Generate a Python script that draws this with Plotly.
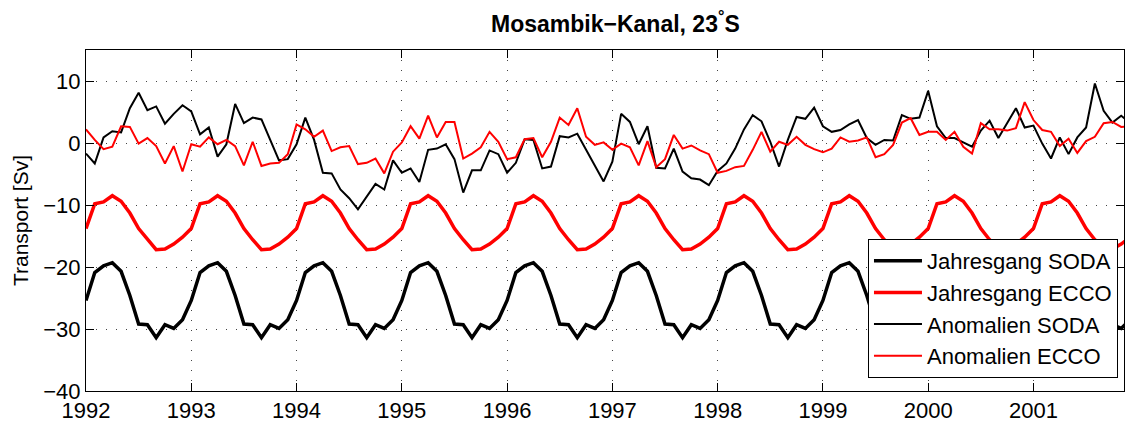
import plotly.graph_objects as go

# Monthly climatology (Jan..Dec), Sv
months = list(range(12))
jahresgang_soda = [-25.4, -20.9, -19.8, -19.3, -20.7, -24.6, -29.2, -29.3, -31.4, -29.3, -29.9, -28.5]
jahresgang_ecco = [-13.8, -9.8, -9.5, -8.5, -9.4, -11.3, -13.8, -15.6, -17.2, -17.1, -16.3, -15.2]

years = list(range(1992, 2002))

anomalien_soda = [
    -1.7, -3.3, 0.9, 1.9, 1.7, 5.6, 8.1, 5.3, 5.9, 3.1, 4.7, 6.1,
    5.1, 1.4, 2.5, -2.2, -0.2, 6.3, 3.2, 4.1, 3.8, 0.5, -2.8, -2.6,
    -0.2, 4.1, 0.5, -4.8, -4.9, -7.5, -8.9, -10.7, -8.7, -6.6, -7.5, -2.8,
    -4.8, -4.1, -6.3, -1.1, -0.9, -0.2, -2.6, -8.0, -4.4, -4.4, -1.2, -1.8,
    -4.8, -3.2, 0.6, 0.5, -4.1, -3.8, 1.1, 0.9, 1.5, -1.1, -3.7, -6.2,
    -3.0, 4.7, 3.4, -0.2, 2.7, -4.0, -4.1, -0.9, -4.6, -5.7, -5.9, -6.8,
    -4.5, -3.3, -0.9, 2.2, 4.5, 3.5, 0.2, -3.8, 0.5, 4.2, 3.9, 5.7,
    2.7, 1.8, 2.1, 3.0, 3.7, 0.8, -0.3, 0.5, 0.4, 4.5, 3.9, 4.1,
    8.4, 2.7, 0.8, 0.8, 0.1, -0.6, 2.0, 3.6, 0.8, 3.2, 5.6, 2.5,
    2.8, -0.1, -2.5, 0.9, -1.8, 0.9, 2.5, 9.6, 5.2, 3.3, 4.4, 3.3,
]

anomalien_ecco = [
    2.2, 0.5, -1.0, -0.6, 2.7, 2.6, -0.1, 0.8, -0.5, -3.3, -0.5, -4.6,
    -0.2, -0.6, 0.9, -0.2, 0.5, -0.5, -3.6, 0.2, -3.7, -3.3, -3.2, -1.8,
    3.0, 2.2, 1.0, 2.0, -1.3, -0.7, -0.5, -3.4, -3.2, -2.5, -4.9, -1.4,
    0.1, 2.7, 0.7, 4.4, 0.9, 3.4, 3.4, -2.5, -1.7, -0.7, 1.8, 0.2,
    -2.6, -2.3, 0.6, 0.8, -2.3, 0.2, 4.1, 2.9, 5.6, 1.0, -0.3, 0.1,
    -1.1, -0.1, -0.7, -3.6, 0.3, -3.9, -2.6, 1.3, -0.9, -0.4, -1.2, -1.8,
    -4.8, -4.5, -3.9, -3.7, -1.1, 1.8, -1.4, 0.2, -0.3, 1.0, -0.3, -1.0,
    -1.5, -0.9, 0.9, 0.2, 0.4, 0.9, -2.3, -1.8, -0.3, 3.3, 4.0, 1.3,
    1.8, 1.8, 0.5, 1.8, -0.6, -1.7, 3.2, 2.2, 2.2, 2.0, 2.4, 6.6,
    3.7, 2.1, 1.8, -0.5, 0.7, -1.6, 0.3, 1.0, 3.2, 3.4, 2.6, 2.7,
]

yticks = [-40, -30, -20, -10, 0, 10]
ytick_labels = ["−40", "−30", "−20", "−10", "0", "10"]

# time axis (decimal years), climatology repeated for each year
t = [y + m / 12 for y in years for m in months]
js = [jahresgang_soda[m] for y in years for m in months]
je = [jahresgang_ecco[m] for y in years for m in months]

fig = go.Figure()
fig.add_trace(go.Scatter(x=t, y=js, mode="lines", name="Jahresgang SODA",
                         line=dict(color="black", width=3.5)))
fig.add_trace(go.Scatter(x=t, y=je, mode="lines", name="Jahresgang ECCO",
                         line=dict(color="#ff0000", width=3.5)))
fig.add_trace(go.Scatter(x=t, y=anomalien_soda, mode="lines", name="Anomalien SODA",
                         line=dict(color="black", width=2)))
fig.add_trace(go.Scatter(x=t, y=anomalien_ecco, mode="lines", name="Anomalien ECCO",
                         line=dict(color="#ff0000", width=2)))

font = "Liberation Sans, Arial, Helvetica, sans-serif"

fig.update_layout(
    width=1125, height=423,
    margin=dict(l=86, r=1, t=50, b=32),
    paper_bgcolor="white", plot_bgcolor="white",
    font=dict(family=font, size=22, color="black"),
    title=dict(text="<b>Mosambik−Kanal, 23<sup>°</sup>S</b>", x=0.51, xref="paper",
               y=1 - 24 / 423, yref="container", yanchor="middle",
               font=dict(size=23, family=font)),
    legend=dict(x=0.9942, y=0.038, xanchor="right", yanchor="bottom",
                bgcolor="white", bordercolor="black", borderwidth=1,
                font=dict(size=22, family=font), tracegroupgap=0,
                itemwidth=48),
    showlegend=True,
)

fig.update_xaxes(
    range=[1992, 2001.86], tickvals=years, ticktext=[str(y) for y in years],
    showline=True, linecolor="black", linewidth=1, mirror="ticks",
    ticks="inside", ticklen=8, tickcolor="black",
    showgrid=True, gridcolor="#444", griddash="1px,9px", gridwidth=1,
    zeroline=False, automargin=False, tickfont=dict(size=22),
)
fig.update_yaxes(
    range=[-40, 15], tickvals=yticks, ticktext=ytick_labels,
    showline=True, linecolor="black", linewidth=1, mirror="ticks",
    ticks="inside", ticklen=8, tickcolor="black",
    showgrid=True, gridcolor="#444", griddash="1px,9px", gridwidth=1,
    zeroline=False, automargin=False, tickfont=dict(size=22),
    title=dict(text="Transport [Sv]", font=dict(size=21, family=font), standoff=8),
)

fig.write_html("out.html", config={"displayModeBar": False},
               post_script="document.body.style.margin='0px';document.body.style.overflow='hidden';")
